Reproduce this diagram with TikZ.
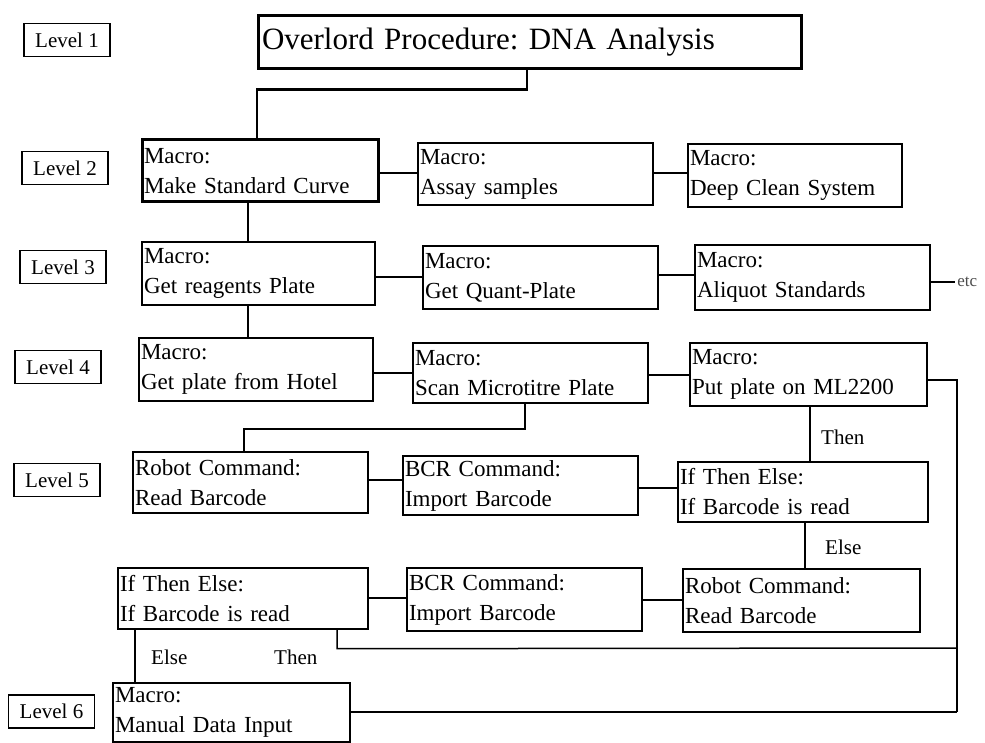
\documentclass[tikz,border=0pt]{standalone}
\usepackage{fontspec}
\setmainfont{Liberation Serif}
\newcommand\twol[2]{\mbox{#1}\\\mbox{#2}}
\begin{document}
\frenchspacing
\begin{tikzpicture}[x=1pt,y=-1pt,
  box/.style={draw, line width=1.8pt, align=left, inner xsep=2pt, inner ysep=0pt,
    font=\fontsize{23}{30}\selectfont\frenchspacing},
  thinbox/.style={box, line width=1.4pt},
  thickbox/.style={box, line width=3pt},
  lvl/.style={draw, line width=1.8pt, minimum width=86pt, minimum height=33pt, inner sep=1pt,
    font=\fontsize{21}{22}\selectfont},
  conn/.style={line width=1.5pt},
  bconn/.style={line width=2.4pt},
  lab/.style={font=\fontsize{21}{24}\selectfont, inner sep=1pt}]
\useasboundingbox (0,0) rectangle (985,743);
% Level labels
\node[lvl] (l1) at (67,40) {Level 1};
\node[lvl] (l2) at (65,168) {Level 2};
\node[lvl] (l3) at (63,267) {Level 3};
\node[lvl] (l4) at (58,367) {Level 4};
\node[lvl] (l5) at (57,480) {Level 5};
\node[lvl] (l6) at (51.5,711.5) {Level 6};
% Title
\node[draw, line width=3pt, minimum width=543pt, minimum height=53pt, text width=535pt, align=left,
  inner xsep=4pt, font=\fontsize{31}{34}\selectfont\frenchspacing] (title) at (529.5,42.5) {Overlord Procedure: DNA Analysis};
% Level 2
\node[thickbox, text width=232pt, minimum height=62pt] (A) at (260,171) {\twol{Macro:}{Make Standard Curve}};
\node[box, text width=231pt, minimum height=62pt] (B) at (535.5,174) {\twol{Macro:}{Assay samples}};
\node[box, text width=210pt, minimum height=63pt] (C) at (795,175.5) {\twol{Macro:}{Deep Clean System}};
% Level 3
\node[box, line width=2.4pt, text width=229pt, minimum height=63pt] (D) at (258.5,273.5) {\twol{Macro:}{Get reagents Plate}};
\node[box, line width=2.4pt, text width=231pt, minimum height=63pt] (E) at (540.5,277.5) {\twol{Macro:}{Get Quant-Plate}};
\node[box, line width=2.4pt, text width=231pt, minimum height=65pt] (F) at (812.5,277.5) {\twol{Macro:}{Aliquot Standards}};
% Level 4
\node[box, text width=230pt, minimum height=63pt] (G) at (256,369.5) {\twol{Macro:}{Get plate from Hotel}};
\node[box, text width=231pt, minimum height=60pt] (H) at (530.5,373) {\twol{Macro:}{Scan Microtitre Plate}};
\node[box, text width=233pt, minimum height=63pt] (I) at (808.5,374.5) {\twol{Macro:}{Put plate on ML2200}};
% Level 5
\node[thinbox, text width=231pt, minimum height=61pt] (J) at (250.5,482.5) {\twol{Robot Command:}{Read Barcode}};
\node[thinbox, text width=231pt, minimum height=59pt] (K) at (520.5,485.5) {\twol{BCR Command:}{Import Barcode}};
\node[thinbox, text width=246pt, minimum height=60pt] (L) at (803,492) {\twol{If Then Else:}{If Barcode is read}};
% Row 6
\node[thinbox, text width=246pt, minimum height=61pt] (M) at (243,598.5) {\twol{If Then Else:}{If Barcode is read}};
\node[thinbox, text width=231pt, minimum height=63pt] (N) at (524.5,599.5) {\twol{BCR Command:}{Import Barcode}};
\node[thinbox, text width=233pt, minimum height=63pt] (O) at (801.5,600.5) {\twol{Robot Command:}{Read Barcode}};
% Level 6
\node[thinbox, text width=233pt, minimum height=59pt] (P) at (231.5,712.5) {\twol{Macro:}{Manual Data Input}};
\coordinate (rc) at (957,712);
% Connectors
\draw[bconn] (title.south -| 527,0) -- ++(0,19) -| (A.north -| 257,0);
\draw[bconn] (A.east |- 0,173) -- (B.west |- 0,173);
\draw[bconn] (B.east |- 0,173) -- (C.west |- 0,173);
\draw[conn] (A.south -| 248,0) -- (D.north -| 248,0);
\draw[bconn] (D.east |- 0,277) -- (E.west |- 0,277);
\draw[bconn] (E.east |- 0,275) -- (F.west |- 0,275);
\draw[bconn] (F.east |- 0,282) -- ++(24,0) node[right, inner sep=1pt, font=\fontsize{17}{18}\selectfont, text=black!70] (etc) {etc};
\draw[conn] (D.south -| 248,0) -- (G.north -| 248,0);
\draw[conn] (G.east |- 0,373) -- (H.west |- 0,373);
\draw[conn] (H.east |- 0,375) -- (I.west |- 0,375);
\draw[conn] (I.east |- 0,380) -| (rc);
\draw[conn] (H.south -| 525,0) -- ++(0,25) -| (J.north -| 244,0);
\draw[conn] (J.east |- 0,480) -- (K.west |- 0,480);
\draw[conn] (K.east |- 0,488) -- (L.west |- 0,488);
\draw[conn] (I.south -| 810,0) -- (L.north -| 810,0);
\node[lab, anchor=west] (then1) at (820,437) {Then};
\draw[conn] (L.south -| 805,0) -- (O.north -| 805,0);
\node[lab, anchor=west] (else1) at (824,547) {Else};
\draw[conn] (M.east |- 0,598) -- (N.west |- 0,598);
\draw[conn] (N.east |- 0,600) -- (O.west |- 0,600);
\draw[conn] (M.south -| 337,0) -- ++(0,19) -- (rc |- 0,648);
\draw[conn] (M.south -| 135,0) -- (P.north -| 135,0);
\node[lab, anchor=west] (else2) at (150,657) {Else};
\node[lab, anchor=west] (then2) at (273,657) {Then};
\draw[conn] (P.east |- 0,712) -- (rc);
\end{tikzpicture}
\end{document}
